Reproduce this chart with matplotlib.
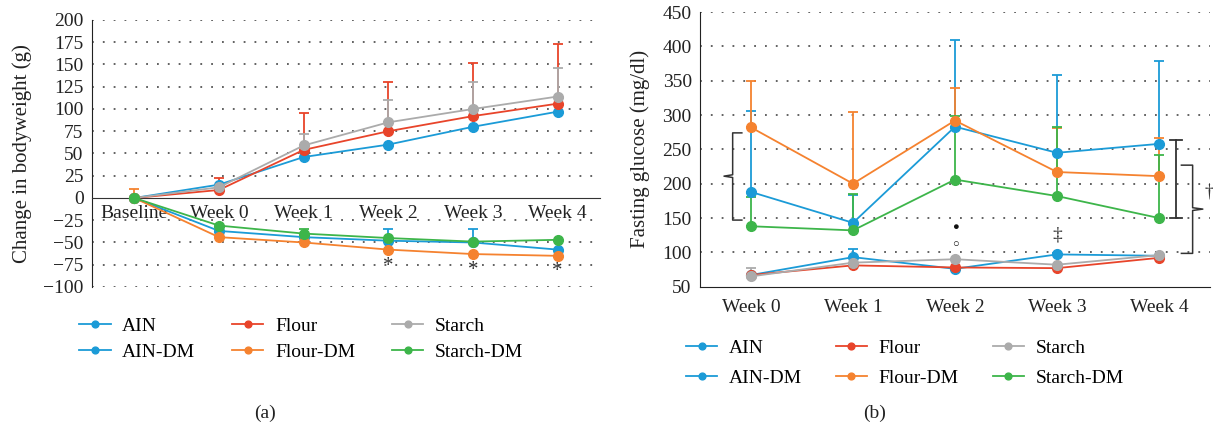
import numpy as np
import matplotlib
matplotlib.use("Agg")
import matplotlib.pyplot as plt

plt.rcParams['font.family'] = ['Liberation Serif', 'DejaVu Serif']
plt.rcParams['axes.unicode_minus'] = True

# ---------------- data ----------------
groups = ['AIN', 'Flour', 'Starch', 'AIN-DM', 'Flour-DM', 'Starch-DM']
clr = {'AIN': '#1b9bd7', 'Flour': '#e8442a', 'Starch': '#ababab',
       'AIN-DM': '#1b9bd7', 'Flour-DM': '#f5822f', 'Starch-DM': '#3db54a'}

weeks_a = ['Baseline', 'Week 0', 'Week 1', 'Week 2', 'Week 3', 'Week 4']
bw = {
    'AIN':       [0, 15, 46, 60, 80, 97],
    'Flour':     [0, 9, 54, 75, 92, 106],
    'Starch':    [0, 12, 59, 85, 100, 114],
    'AIN-DM':    [0, -37, -44, -48, -50, -58],
    'Flour-DM':  [0, -44, -50, -58, -63, -65],
    'Starch-DM': [0, -31, -40, -45, -49, -47],
}
# top of the (upper only) error bars, 0 = none drawn
bw_cap = {
    'AIN':       [0, 0, 0, 0, 0, 0],
    'Flour':     [0, 23, 96, 130, 152, 173],
    'Starch':    [0, 0, 72, 110, 130, 146],
    'AIN-DM':    [0, 0, 0, -35, -35, 0],
    'Flour-DM':  [10, 0, 0, 0, 0, 0],
    'Starch-DM': [0, 0, -35, 0, 0, 0],
}
star_idx = [3, 4, 5]
star_val = [-77, -81, -83]

weeks_b = ['Week 0', 'Week 1', 'Week 2', 'Week 3', 'Week 4']
glu = {
    'AIN':       [67, 93, 76, 97, 95],
    'Flour':     [67, 81, 78, 77, 92],
    'Starch':    [65, 85, 90, 82, 96],
    'AIN-DM':    [188, 143, 283, 245, 258],
    'Flour-DM':  [282, 200, 292, 217, 211],
    'Starch-DM': [138, 132, 206, 182, 150],
}
glu_cap = {
    'AIN':       [0, 105, 0, 99, 0],
    'Flour':     [0, 0, 0, 0, 0],
    'Starch':    [77, 0, 0, 0, 0],
    'AIN-DM':    [306, 184, 409, 359, 378],
    'Flour-DM':  [350, 304, 340, 281, 267],
    'Starch-DM': [180, 185, 298, 283, 242],
}


def draw(ax, cats, vals, caps):
    x = np.arange(len(cats))
    handles = []
    for g in groups:
        v = np.array(vals[g], float)
        c = np.array(caps[g], float)
        m = c != 0
        if m.any():
            up = c[m] - v[m]
            ax.errorbar(x[m], v[m], yerr=[np.zeros(m.sum()), up], fmt='none',
                        ecolor=clr[g], elinewidth=1.3, capsize=3.5, capthick=1.3, zorder=2)
        ln, = ax.plot(x, v, '-o', color=clr[g], lw=1.3, ms=7, label=g, zorder=3)
        handles.append(ln)
    return handles


fig = plt.figure(figsize=(12.13, 4.30), dpi=100)
tc = '#222222'

# ---------------- (a) ----------------
ax1 = fig.add_axes([0.0758, 0.3326, 0.4188, 0.6209])
h = draw(ax1, weeks_a, bw, bw_cap)
ax1.set_xlim(-0.5, 5.5)
ax1.set_ylim(-100, 200)
ax1.set_yticks(np.arange(-100, 201, 25))
for s in ['top', 'right']:
    ax1.spines[s].set_visible(False)
ax1.spines['bottom'].set_position(('data', 0))
ax1.spines['bottom'].set_color('#333333')
ax1.spines['left'].set_color(tc)
ax1.set_xticks(np.arange(len(weeks_a)))
ax1.set_xticklabels(weeks_a)
ax1.tick_params(axis='both', length=0, labelsize=14, colors=tc)
ax1.tick_params(axis='x', pad=5)
ax1.tick_params(axis='y', pad=6)
for yv in np.arange(-100, 201, 25):
    if yv != 0:
        ax1.axhline(yv, color='#555555', lw=1.3, ls=(0, (1, 5)), zorder=0)
for xi, yv in zip(star_idx, star_val):
    ax1.text(xi, yv, '*', ha='center', va='center', fontsize=15, color='#333333')
ax1.set_ylabel('Change in bodyweight (g)', fontsize=15, color=tc)
ax1.yaxis.set_label_coords(-0.118, 0.5)

order = [0, 3, 1, 4, 2, 5]
fig.legend([h[i] for i in order], [groups[i] for i in order], ncol=3,
           loc='center left', bbox_to_anchor=(0.0575, 0.2116), frameon=False,
           fontsize=14, markerscale=0.7, handlelength=1.6, handletextpad=0.6,
           columnspacing=1.9, labelspacing=0.45, borderpad=0)

# ---------------- (b) ----------------
ax2 = fig.add_axes([0.5771, 0.3333, 0.4204, 0.6387])
h2 = draw(ax2, weeks_b, glu, glu_cap)
ax2.set_xlim(-0.5, 4.5)
ax2.set_ylim(50, 450)
ax2.set_yticks(np.arange(50, 451, 50))
for s in ['top', 'right']:
    ax2.spines[s].set_visible(False)
ax2.spines['bottom'].set_color(tc)
ax2.spines['left'].set_color(tc)
ax2.set_xticks(np.arange(len(weeks_b)))
ax2.set_xticklabels(weeks_b)
ax2.tick_params(axis='both', length=0, labelsize=14, colors=tc)
ax2.tick_params(axis='x', pad=9)
ax2.tick_params(axis='y', pad=6)
for yv in np.arange(100, 451, 50):
    ax2.axhline(yv, color='#555555', lw=1.3, ls=(0, (1, 5)), zorder=0)
ax2.set_ylabel('Fasting glucose (mg/dl)', fontsize=15, color=tc)
ax2.yaxis.set_label_coords(-0.098, 0.5)

# significance marks
k = '#333333'
# left curly brace at week 0
bx, btip, bhook = -0.18, -0.265, -0.09
ax2.plot([bhook, bx, bx, btip, bx, bx, bhook], [274, 274, 213, 211, 209, 147, 147],
         color=k, lw=1.1, clip_on=False)
# square bracket at week 4
ax2.plot([4.17, 4.17], [150.5, 263.5], color=k, lw=1.3, clip_on=False)
ax2.plot([4.11, 4.23], [263.5, 263.5], color=k, lw=1.3, clip_on=False)
ax2.plot([4.11, 4.23], [150.5, 150.5], color=k, lw=1.3, clip_on=False)
# right curly brace
cx, chook, ctip = 4.33, 4.22, 4.43
ax2.plot([chook, cx, cx, ctip, cx, cx, chook], [227, 227, 165, 163, 161, 98.5, 98.5],
         color=k, lw=1.1, clip_on=False)
ax2.text(4.445, 188, '†', ha='left', va='center', fontsize=13, color=k, clip_on=False)
ax2.text(2, 136, '●', ha='center', va='center', fontsize=8, color='#111111')
ax2.text(2, 112, '○', ha='center', va='center', fontsize=8, color='#111111')
ax2.text(3, 125, '‡', ha='center', va='center', fontsize=14, color=k)

fig.legend([h2[i] for i in order], [groups[i] for i in order], ncol=3,
           loc='center left', bbox_to_anchor=(0.5575, 0.156), frameon=False,
           fontsize=14, markerscale=0.7, handlelength=1.6, handletextpad=0.6,
           columnspacing=1.75, labelspacing=0.65, borderpad=0)

fig.text(0.2185, 0.0395, '(a)', ha='center', va='center', fontsize=14, color=tc)
fig.text(0.7213, 0.0395, '(b)', ha='center', va='center', fontsize=14, color=tc)

fig.savefig('out.png', dpi=100)
